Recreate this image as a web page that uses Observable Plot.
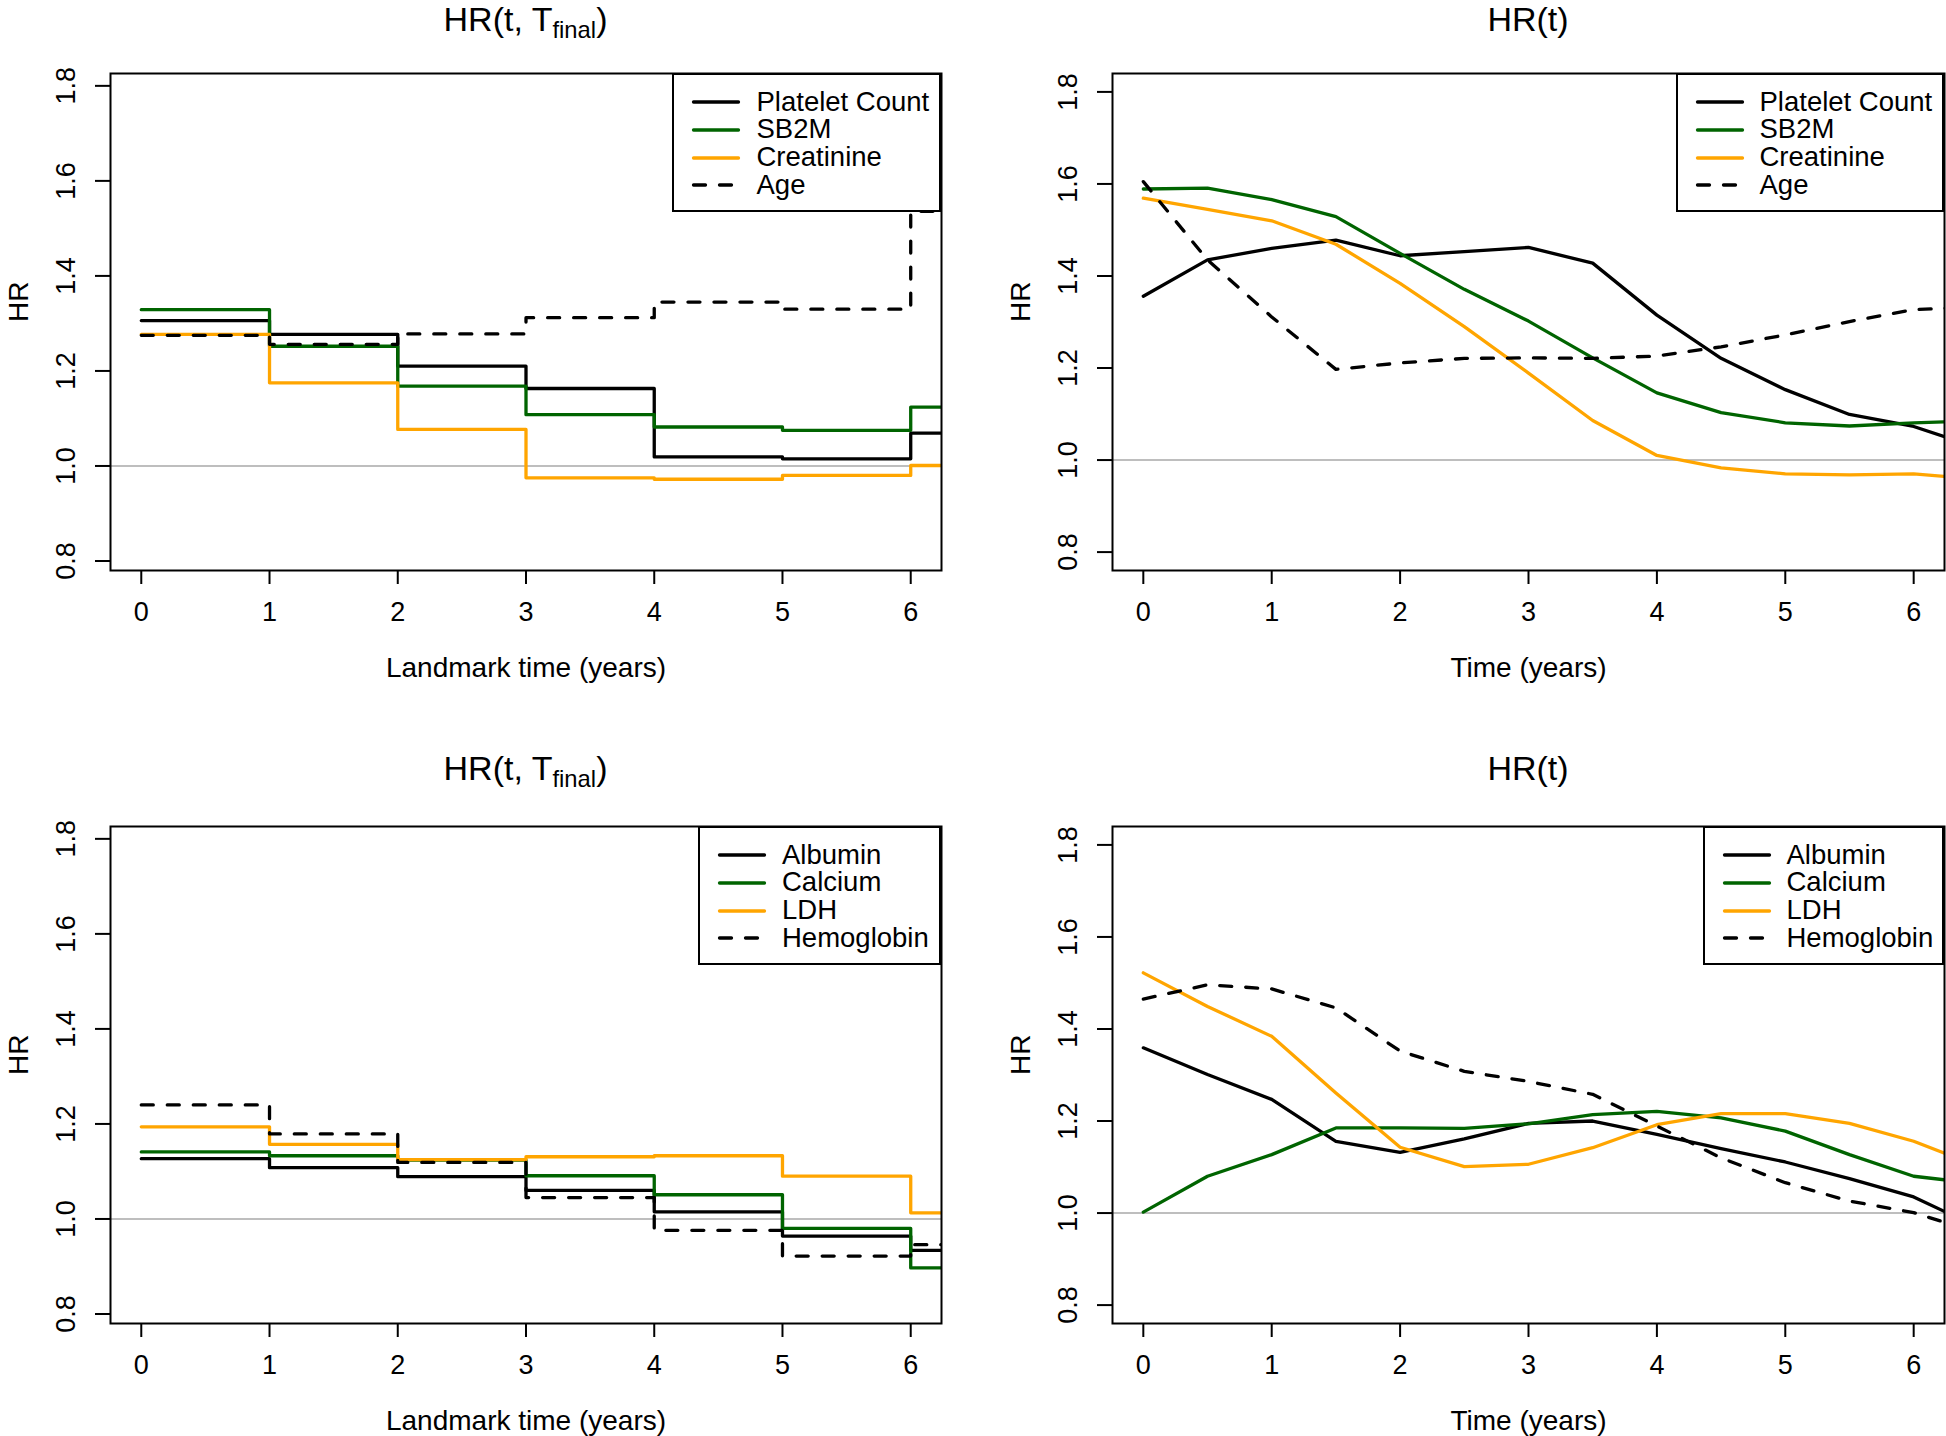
<!DOCTYPE html>
<html><head><meta charset="utf-8">
<script src="https://cdn.jsdelivr.net/npm/d3@7"></script>
<script src="https://cdn.jsdelivr.net/npm/@observablehq/plot@0.6"></script>
<style>
html,body{margin:0;padding:0;background:#fff;}
#root{position:relative;width:1946px;height:1436px;overflow:hidden;font-family:"Liberation Sans",Arial,Helvetica,sans-serif;color:#000;}
.panel{position:absolute;}
.title{position:absolute;width:600px;text-align:center;font-size:34px;line-height:34px;white-space:nowrap;}
.title sub{font-size:0.7em;vertical-align:-0.3em;line-height:0;}
.legend{position:absolute;box-sizing:border-box;border:2px solid #000;background:#fff;}
.legend .lab{position:absolute;font-size:27.5px;line-height:28px;white-space:nowrap;}
.legend svg{position:absolute;overflow:visible;}
</style></head><body><div id="root"></div>
<script>
// ---------- data ----------
const landmarkTimes = [0, 1, 2, 3, 4, 5, 6];
const timeGrid = [0, 0.5, 1, 1.5, 2, 2.5, 3, 3.5, 4, 4.5, 5, 5.5, 6, 6.25];
const xTicks = [0, 1, 2, 3, 4, 5, 6];
const yTicks = [0.8, 1.0, 1.2, 1.4, 1.6, 1.8];

// top-left: HR(t, T_final), landmark step functions
const plateletStep   = [1.306, 1.277, 1.210, 1.163, 1.019, 1.015, 1.069];
const sb2mStep       = [1.329, 1.252, 1.168, 1.108, 1.082, 1.075, 1.124];
const creatinineStep = [1.277, 1.175, 1.077, 0.975, 0.972, 0.980, 1.001];
const ageStep        = [1.275, 1.256, 1.278, 1.312, 1.345, 1.330, 1.536];

// top-right: HR(t)
const plateletT   = [1.356, 1.435, 1.460, 1.478, 1.444, 1.453, 1.462, 1.428, 1.315, 1.221, 1.153, 1.099, 1.073, 1.050];
const sb2mT       = [1.589, 1.591, 1.566, 1.529, 1.449, 1.371, 1.302, 1.222, 1.146, 1.103, 1.081, 1.074, 1.081, 1.083];
const creatinineT = [1.569, 1.545, 1.520, 1.469, 1.384, 1.290, 1.189, 1.086, 1.010, 0.983, 0.970, 0.968, 0.970, 0.964];
const ageT        = [1.605, 1.435, 1.311, 1.197, 1.211, 1.221, 1.222, 1.221, 1.226, 1.246, 1.272, 1.301, 1.327, 1.330];

// bottom-left: HR(t, T_final)
const albuminStep    = [1.127, 1.108, 1.089, 1.060, 1.015, 0.964, 0.934];
const calciumStep    = [1.141, 1.133, 1.124, 1.091, 1.051, 0.980, 0.897];
const ldhStep        = [1.194, 1.157, 1.125, 1.131, 1.133, 1.090, 1.013];
const hemoglobinStep = [1.240, 1.179, 1.119, 1.045, 0.976, 0.922, 0.946];

// bottom-right: HR(t)
const albuminT    = [1.359, 1.301, 1.247, 1.156, 1.132, 1.161, 1.195, 1.200, 1.171, 1.140, 1.111, 1.075, 1.035, 1.002];
const calciumT    = [1.002, 1.080, 1.127, 1.185, 1.185, 1.184, 1.194, 1.214, 1.221, 1.207, 1.178, 1.127, 1.080, 1.072];
const ldhT        = [1.522, 1.449, 1.384, 1.261, 1.143, 1.101, 1.106, 1.142, 1.192, 1.216, 1.216, 1.195, 1.156, 1.129];
const hemoglobinT = [1.465, 1.496, 1.487, 1.446, 1.352, 1.308, 1.286, 1.258, 1.189, 1.120, 1.066, 1.026, 1.001, 0.979];

const namesTop = ["Platelet Count", "SB2M", "Creatinine", "Age"];
const namesBottom = ["Albumin", "Calcium", "LDH", "Hemoglobin"];
const seriesColors = ["#000000", "#006400", "#FFA500", "#000000"];
const seriesDashed = [false, false, false, true];
const titleLandmark = "HR(t, T<sub>final</sub>)";
const titleTime = "HR(t)";
const xLabelLandmark = "Landmark time (years)";
const xLabelTime = "Time (years)";
const yLabel = "HR";

// ---------- layout ----------
const FONT = '"Liberation Sans", Arial, Helvetica, sans-serif';
const DASH = "12,14";
const LW = 3.3;
const root = document.getElementById("root");

function stepRows(vals) {
  const rows = landmarkTimes.map((t, i) => ({t, v: vals[i]}));
  rows.push({t: landmarkTimes[landmarkTimes.length - 1] + 1, v: vals[vals.length - 1]});
  return rows;
}
function gridRows(vals) {
  return timeGrid.map((t, i) => ({t, v: vals[i]}));
}

function drawPanel(cfg) {
  const mL = 110, mT = 33, mB = 110;
  const marks = [
    Plot.ruleY([1], {stroke: "#BEBEBE", strokeWidth: 2}),
    ...cfg.values.map((vals, i) => Plot.line(cfg.step ? stepRows(vals) : gridRows(vals), {
      x: "t", y: "v",
      stroke: seriesColors[i], strokeWidth: LW,
      strokeDasharray: seriesDashed[i] ? DASH : null,
      curve: cfg.step ? "step-after" : "linear",
      clip: true
    })),
    Plot.frame({stroke: "#000", strokeWidth: 2}),
    Plot.axisX({ticks: xTicks, tickSize: 14, tickFormat: () => "", label: null, strokeWidth: 2}),
    Plot.axisY({ticks: yTicks, tickSize: 15, tickFormat: () => "", label: null, strokeWidth: 2}),
    Plot.text(xTicks, {x: d => d, frameAnchor: "bottom", dy: 42, text: d => String(d), lineAnchor: "middle", fontSize: 27}),
    Plot.text(yTicks, {y: d => d, frameAnchor: "left", dx: -44, rotate: -90, text: d => d.toFixed(1), textAnchor: "middle", lineAnchor: "middle", fontSize: 27}),
    Plot.text([cfg.xLabel], {frameAnchor: "bottom", dy: 98, text: d => d, lineAnchor: "middle", fontSize: 28}),
    Plot.text([yLabel], {frameAnchor: "left", dx: -91, rotate: -90, text: d => d, lineAnchor: "middle", fontSize: 28})
  ];
  const svg = Plot.plot({
    width: cfg.width, height: 640,
    marginLeft: mL, marginRight: cfg.mR, marginTop: mT, marginBottom: mB,
    x: {domain: [-0.24, 6.24]},
    y: {domain: cfg.yDomain},
    style: {fontFamily: FONT, fontSize: "27px", background: "transparent", overflow: "visible", color: "#000"},
    marks
  });
  const wrap = document.createElement("div");
  wrap.className = "panel";
  wrap.style.left = cfg.left + "px";
  wrap.style.top = cfg.top + "px";
  wrap.appendChild(svg);
  root.appendChild(wrap);

  const frameLeft = cfg.left + mL, frameRight = cfg.left + cfg.width - cfg.mR;
  const frameTop = cfg.top + mT;

  // title
  const t = document.createElement("div");
  t.className = "title";
  t.innerHTML = cfg.title;
  const cx = (frameLeft + frameRight) / 2;
  t.style.left = (cx - 300) + "px";
  t.style.top = Math.max(2, frameTop - 46 - 29) + "px";
  root.appendChild(t);

  // legend
  const lg = document.createElement("div");
  lg.className = "legend";
  lg.style.left = (frameRight - cfg.legendWidth) + "px";
  lg.style.top = frameTop + "px";
  lg.style.width = cfg.legendWidth + "px";
  lg.style.height = "139px";
  cfg.names.forEach((name, i) => {
    const yLine = 29 + 27.8 * i - 2;
    const ns = "http://www.w3.org/2000/svg";
    const s = document.createElementNS(ns, "svg");
    s.setAttribute("width", "60"); s.setAttribute("height", "10");
    s.style.left = (18) + "px";
    s.style.top = (yLine - 5) + "px";
    const ln = document.createElementNS(ns, "line");
    ln.setAttribute("x1", "1.5"); ln.setAttribute("x2", "46.5");
    ln.setAttribute("y1", "5"); ln.setAttribute("y2", "5");
    ln.setAttribute("stroke", seriesColors[i]);
    ln.setAttribute("stroke-width", LW);
    ln.setAttribute("stroke-linecap", "round");
    if (seriesDashed[i]) ln.setAttribute("stroke-dasharray", DASH);
    s.appendChild(ln);
    lg.appendChild(s);
    const lab = document.createElement("div");
    lab.className = "lab";
    lab.textContent = name;
    lab.style.left = (cfg.legendTextX - 2) + "px";
    lab.style.top = (yLine + 9.6 - 24) + "px";
    lg.appendChild(lab);
  });
  root.appendChild(lg);
}

const domainLandmark = [0.78, 1.826];
const domainTime = [0.76, 1.84];

drawPanel({left: 0, top: 40, width: 973, mR: 32, yDomain: domainLandmark, step: true,
  values: [plateletStep, sb2mStep, creatinineStep, ageStep], names: namesTop,
  title: titleLandmark, xLabel: xLabelLandmark, legendWidth: 269.5, legendTextX: 85});
drawPanel({left: 1002, top: 40, width: 944, mR: 2, yDomain: domainTime, step: false,
  values: [plateletT, sb2mT, creatinineT, ageT], names: namesTop,
  title: titleTime, xLabel: xLabelTime, legendWidth: 268.5, legendTextX: 84});
drawPanel({left: 0, top: 793, width: 973, mR: 32, yDomain: domainLandmark, step: true,
  values: [albuminStep, calciumStep, ldhStep, hemoglobinStep], names: namesBottom,
  title: titleLandmark, xLabel: xLabelLandmark, legendWidth: 243, legendTextX: 84});
drawPanel({left: 1002, top: 793, width: 944, mR: 2, yDomain: domainTime, step: false,
  values: [albuminT, calciumT, ldhT, hemoglobinT], names: namesBottom,
  title: titleTime, xLabel: xLabelTime, legendWidth: 241.5, legendTextX: 84});
</script></body></html>
